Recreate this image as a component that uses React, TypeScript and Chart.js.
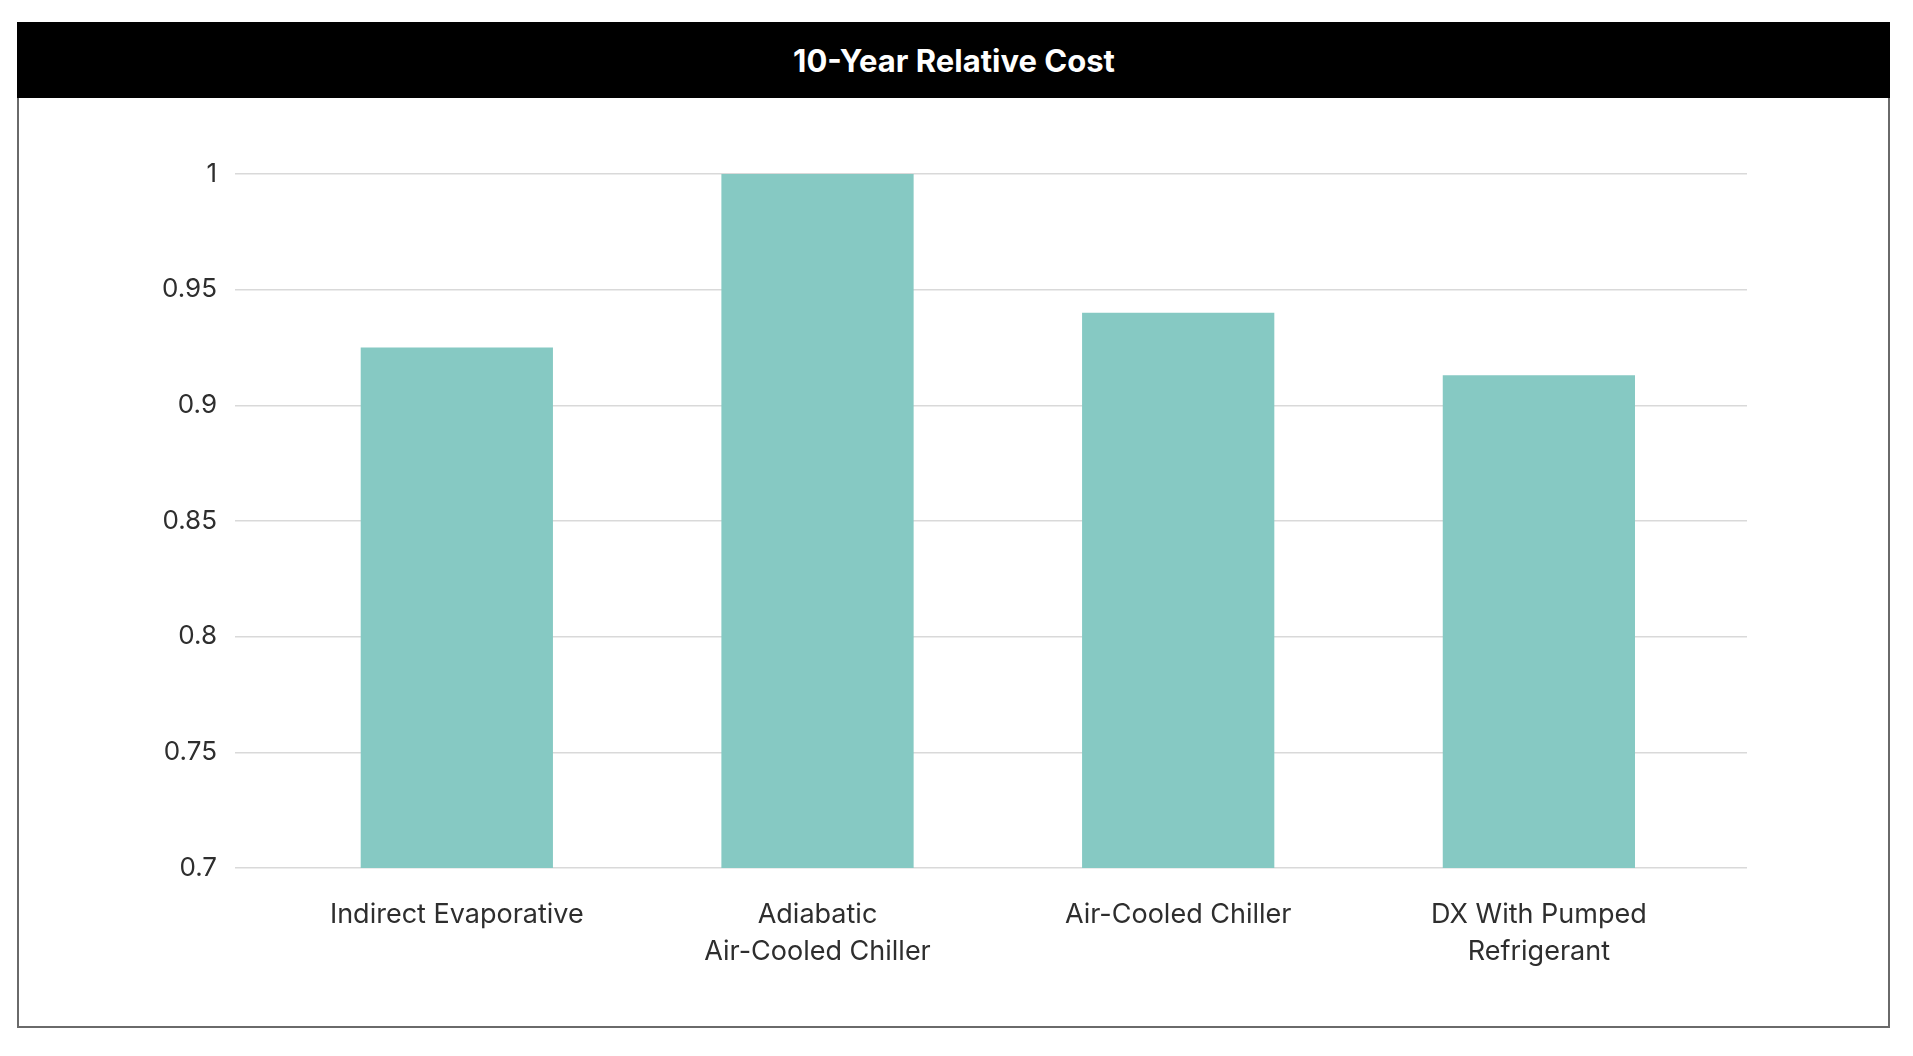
import React, { useEffect, useRef } from "react";
import { Chart, registerables } from "chart.js";

Chart.register(...registerables);

const title = "10-Year Relative Cost";
const categories = [
  "Indirect Evaporative",
  "Adiabatic Air-Cooled Chiller",
  "Air-Cooled Chiller",
  "DX With Pumped Refrigerant",
];
const categoryLines = [
  ["Indirect Evaporative"],
  ["Adiabatic", "Air-Cooled Chiller"],
  ["Air-Cooled Chiller"],
  ["DX With Pumped", "Refrigerant"],
];
const relativeCost = [0.925, 1.0, 0.94, 0.913];
const yMin = 0.7;
const yMax = 1.0;
const yStep = 0.05;

const W = 1913;
const H = 1056;

export default function App() {
  const ref = useRef<HTMLCanvasElement | null>(null);

  useEffect(() => {
    if (!ref.current) return;
    const chart = new Chart(ref.current, {
      type: "bar",
      data: {
        datasets: [
          {
            label: title,
            data: relativeCost.map((v, i) => ({ x: i, y: v })),
            backgroundColor: "#86C9C3",
            borderWidth: 0,
            barPercentage: 0.533,
            categoryPercentage: 1,
          },
        ],
      },
      options: {
        responsive: false,
        animation: false,
        devicePixelRatio: 1,
        layout: { padding: { left: 0, right: W - 1747, top: 174, bottom: 0 } },
        plugins: {
          legend: { display: false },
          tooltip: { enabled: false },
          title: { display: false },
        },
        scales: {
          x: {
            type: "linear",
            offset: false,
            min: -0.615,
            max: 3.577,
            grid: { display: false },
            border: { display: false },
            afterBuildTicks: (scale: any) => {
              scale.ticks = categories.map((_, i) => ({ value: i }));
            },
            afterFit: (scale: any) => {
              scale.height = H - 868;
            },
            ticks: {
              autoSkip: false,
              maxRotation: 0,
              minRotation: 0,
              padding: 20,
              color: "#2e2e2e",
              font: { family: "Inter", size: 27, lineHeight: 1.37 },
              callback: (value: any) => categoryLines[Math.round(Number(value))] ?? "",
            },
          },
          y: {
            min: yMin,
            max: yMax,
            grid: { color: "#d9d9d9", lineWidth: 1.5, drawTicks: false },
            border: { display: false },
            afterFit: (scale: any) => {
              scale.width = 235;
            },
            ticks: {
              stepSize: yStep,
              padding: 18,
              color: "#2e2e2e",
              font: { family: "Inter", size: 26 },
              callback: (value: any) => String(parseFloat(Number(value).toFixed(2))),
            },
          },
        },
      },
    });
    return () => chart.destroy();
  }, []);

  return (
    <div style={{ position: "absolute", left: 0, top: 0, width: W, height: H, background: "#fff", overflow: "hidden" }}>
      <div
        style={{
          position: "absolute",
          left: 17,
          top: 22,
          width: 1873,
          height: 1006,
          border: "2px solid #6a6a6a",
          boxSizing: "border-box",
        }}
      />
      <div
        style={{
          position: "absolute",
          left: 17,
          top: 22,
          width: 1873,
          height: 76,
          background: "#000",
          color: "#fff",
          fontFamily: "Inter, sans-serif",
          fontWeight: 700,
          fontSize: 31,
          display: "flex",
          alignItems: "center",
          justifyContent: "center",
        }}
      >
        <span style={{ position: "relative", left: 954 - (17 + 1873 / 2) }}>{title}</span>
      </div>
      <canvas ref={ref} width={W} height={H} style={{ position: "absolute", left: 0, top: 0, width: W, height: H }} />
    </div>
  );
}
